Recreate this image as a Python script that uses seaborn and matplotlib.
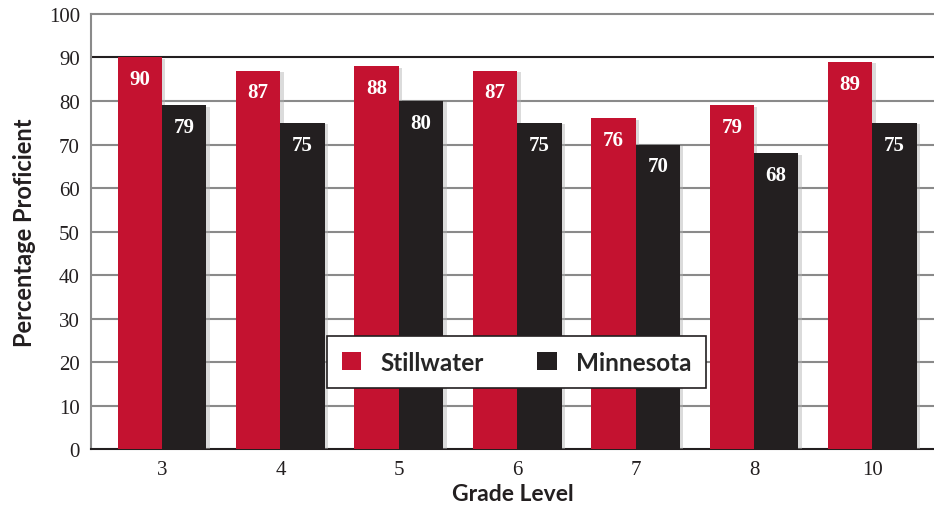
import pandas as pd
import matplotlib.pyplot as plt
import matplotlib.patheffects as pe
import seaborn as sns

grades = ["3", "4", "5", "6", "7", "8", "10"]
stillwater = [90, 87, 88, 87, 76, 79, 89]
minnesota = [79, 75, 80, 75, 70, 68, 75]
series_names = ["Stillwater", "Minnesota"]
colors = ["#c41230", "#231f20"]

df = pd.DataFrame({
    "Grade": grades * 2,
    "Score": stillwater + minnesota,
    "District": [series_names[0]] * len(grades) + [series_names[1]] * len(grades),
})

sns.set_style("white")
serif = ["Liberation Serif", "DejaVu Serif"]
sans = ["Lato", "DejaVu Sans"]

fig = plt.figure(figsize=(9.34, 5.10), dpi=100)
ax = fig.add_axes([0.0974, 0.1176, 0.9026, 0.853])

sns.barplot(data=df, x="Grade", y="Score", hue="District", order=grades,
            hue_order=series_names, palette=colors, width=0.75, gap=0,
            saturation=1, ax=ax, zorder=3)

# soft drop shadow like the original
for p in ax.patches:
    p.set_linewidth(0)
    p.set_path_effects([pe.SimplePatchShadow(offset=(2.5, -1), shadow_rgbFace="#b0b0b0", alpha=0.45),
                        pe.Normal()])

for cont in ax.containers:
    ax.bar_label(cont, padding=-23, color="white", fontsize=15, fontweight="bold",
                 family=serif)

ax.set_ylim(0, 100)
ax.set_xlim(-0.6, 6.52)
ax.set_yticks(range(0, 101, 10))
for y in range(10, 100, 10):
    ax.axhline(y, color="#231f20" if y == 90 else "#8a8a8a", lw=1.5, zorder=1)

ax.tick_params(axis="both", length=0, labelsize=15, colors="#231f20", pad=8)
for lab in ax.get_xticklabels() + ax.get_yticklabels():
    lab.set_family(serif)

ax.spines["right"].set_visible(False)
ax.spines["top"].set_color("#8a8a8a")
ax.spines["left"].set_color("#8a8a8a")
ax.spines["top"].set_linewidth(1.5)
ax.spines["left"].set_linewidth(1.5)
ax.spines["bottom"].set_color("#231f20")
ax.spines["bottom"].set_linewidth(1.5)

ax.set_xlabel("Grade Level", fontsize=16.5, fontweight="bold", family=sans,
              color="#231f20", labelpad=3)
ax.set_ylabel("Percentage Proficient", fontsize=17, fontweight="bold", family=sans,
              color="#231f20", labelpad=9)

leg = ax.legend(loc="center", bbox_to_anchor=(0.505, 0.2), ncol=2, frameon=True,
                fancybox=False, edgecolor="#231f20", framealpha=1,
                handlelength=0.8, handleheight=0.8, handletextpad=0.8,
                columnspacing=2.2, borderpad=0.6, borderaxespad=0,
                prop={"family": sans, "weight": "bold", "size": 17.5})
leg.get_frame().set_linewidth(1.2)
leg.set_zorder(10)
for h in leg.legend_handles:
    h.set_path_effects([])

fig.savefig("out.png", dpi=100)
